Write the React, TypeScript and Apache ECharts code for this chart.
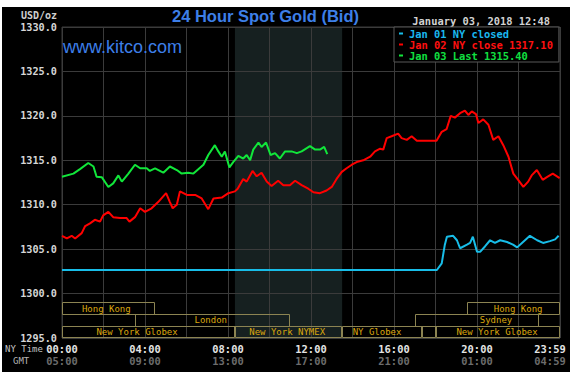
import React, { useEffect, useRef } from "react";
import * as echarts from "echarts";

// ---- axis ticks ----
const nyTimeLabels = ["00:00", "04:00", "08:00", "12:00", "16:00", "20:00", "23:59"];
const gmtTimeLabels = ["05:00", "09:00", "13:00", "17:00", "21:00", "01:00", "04:59"];
const yMin = 1295;
const yMax = 1330;
const yStep = 5;

// ---- series (minutes after NY midnight, price USD/oz) ----
const seriesNames = ["Jan 01 NY closed", "Jan 02 NY close 1317.10", "Jan 03 Last 1315.40"];

const jan01: number[][] = [
  [0, 1302.65], [1084, 1302.65], [1098, 1303.4], [1107, 1305.5], [1113, 1306.4],
  [1131, 1306.5], [1142, 1306.0], [1151, 1305.1], [1171, 1305.5], [1180, 1305.7],
  [1188, 1306.4], [1200, 1304.7], [1209, 1304.7], [1223, 1305.3], [1238, 1306.0],
  [1252, 1305.7], [1267, 1306.0], [1287, 1305.8], [1304, 1305.5], [1316, 1305.2],
  [1330, 1305.7], [1353, 1306.5], [1374, 1306.0], [1391, 1305.7], [1411, 1305.9],
  [1426, 1306.1], [1436, 1306.5],
];

const jan02: number[][] = [
  [0, 1306.5], [14, 1306.2], [28, 1306.5], [38, 1306.2], [57, 1306.8], [67, 1307.6],
  [81, 1307.9], [95, 1308.3], [110, 1308.1], [119, 1308.8], [134, 1309.2], [148, 1308.6],
  [168, 1308.5], [187, 1308.5], [195, 1308.1], [211, 1308.6], [226, 1309.6], [240, 1309.2],
  [259, 1309.6], [278, 1310.3], [301, 1311.3], [312, 1310.3], [320, 1309.6], [332, 1310.0],
  [341, 1311.5], [361, 1311.1], [385, 1311.1], [404, 1310.7], [423, 1309.5], [438, 1310.7],
  [462, 1310.8], [481, 1311.3], [500, 1311.5], [508, 1311.8], [524, 1312.9], [534, 1312.6],
  [551, 1313.8], [563, 1313.2], [577, 1313.6], [592, 1312.6], [606, 1312.1], [625, 1312.7],
  [640, 1312.2], [659, 1312.2], [674, 1312.7], [693, 1312.2], [712, 1311.8], [727, 1311.4],
  [746, 1311.3], [765, 1311.6], [780, 1312.0], [794, 1312.9], [809, 1313.7], [823, 1314.1],
  [838, 1314.5], [852, 1314.8], [871, 1315.0], [891, 1315.4], [905, 1316.0], [920, 1316.3],
  [929, 1316.2], [939, 1317.5], [953, 1317.7], [972, 1318.0], [982, 1317.5], [997, 1317.3],
  [1011, 1317.7], [1026, 1317.2], [1083, 1317.2], [1098, 1318.2], [1112, 1318.5],
  [1124, 1320.0], [1136, 1319.8], [1151, 1320.3], [1165, 1320.6], [1175, 1320.1],
  [1185, 1320.5], [1197, 1320.2], [1204, 1319.2], [1218, 1319.6], [1233, 1319.0],
  [1247, 1317.3], [1262, 1317.7], [1276, 1316.7], [1291, 1315.4], [1305, 1313.5],
  [1319, 1312.8], [1334, 1312.0], [1348, 1312.6], [1358, 1313.3], [1373, 1313.9],
  [1390, 1312.8], [1402, 1313.1], [1419, 1313.5], [1439, 1313.0],
];

const jan03: number[][] = [
  [0, 1313.15], [33, 1313.5], [52, 1314.0], [76, 1314.7], [91, 1314.3], [100, 1313.15],
  [115, 1313.1], [134, 1312.0], [148, 1312.4], [163, 1313.3], [173, 1312.6], [192, 1313.5],
  [211, 1314.5], [226, 1314.1], [245, 1314.1], [254, 1313.8], [269, 1314.1], [293, 1313.6],
  [312, 1314.3], [332, 1313.9], [346, 1313.5], [365, 1313.6], [380, 1313.5], [409, 1314.5],
  [423, 1315.6], [442, 1316.7], [452, 1316.0], [462, 1315.4], [471, 1316.0], [484, 1314.2],
  [495, 1314.8], [510, 1315.5], [524, 1315.2], [534, 1315.6], [544, 1315.0], [553, 1316.2],
  [568, 1317.0], [577, 1316.5], [590, 1317.0], [603, 1315.6], [616, 1315.8], [630, 1315.2],
  [645, 1316.0], [664, 1316.0], [679, 1315.8], [693, 1316.0], [717, 1316.6], [732, 1316.2],
  [746, 1316.2], [758, 1316.5], [767, 1315.7],
];

// ---- market sessions: label, start (min), end (min), row, label anchor (min) ----
const sessionLabels = [
  "Hong Kong", "Hong Kong",
  "London", "Sydney",
  "New York Globex", "New York NYMEX", "NY Globex", "", "New York Globex",
];
const sessionStarts = [0, 1170, 210, 1020, 0, 500, 810, 1040, 1080];
const sessionEnds = [270, 1440, 660, 1380, 500, 810, 1040, 1080, 1440];
const sessionRows = [0, 0, 1, 1, 2, 2, 2, 2, 2];
const sessionLabelAt = [128, 1319, 430, 1255, 217, 651, 911, 1060, 1258];

// COMEX pit hours (shaded)
const comexStart = 500;
const comexEnd = 810;

const MONO = '"DejaVu Sans Mono", monospace';
const SANS = '"Liberation Sans", Arial, sans-serif';
const lineColors = ["#18bde8", "#ff0000", "#11e63a"];
const legendTextColors = ["#1ab8f0", "#ff1010", "#10e040"];
const rowBands = [
  [1299.0, 1297.7],
  [1297.7, 1296.4],
  [1296.4, 1295.1],
];

export default function App() {
  const ref = useRef<HTMLDivElement>(null);

  useEffect(() => {
    if (!ref.current) return;
    const chart = echarts.init(ref.current, undefined, { renderer: "svg" });
    const gridColor = "#3b3b3b";

    const option: any = {
      animation: false,
      backgroundColor: "transparent",
      title: {
        text: "24 Hour Spot Gold (Bid)",
        left: 172,
        top: 6,
        padding: 0,
        textStyle: {
          color: "#3d7fe8",
          fontFamily: SANS,
          fontWeight: "bold",
          fontSize: 16.5,
          lineHeight: 20,
        },
      },
      legend: {
        orient: "vertical",
        left: 394,
        top: 27,
        padding: [1, 6, 1, 5],
        itemGap: 0,
        itemWidth: 4,
        itemHeight: 2,
        icon: "rect",
        selectedMode: false,
        backgroundColor: "#000",
        borderColor: "#595959",
        borderWidth: 1,
        z: 20,
        data: seriesNames.map((n, i) => ({ name: n, textStyle: { color: legendTextColors[i] } })),
        textStyle: {
          fontFamily: MONO,
          fontWeight: "bold",
          fontSize: 10.4,
          lineHeight: 11,
          padding: [0, 0, 0, 1],
        },
      },
      grid: {
        left: 62,
        right: 13,
        top: 27,
        bottom: 37,
        outerBoundsMode: "none",
        containLabel: false,
        show: true,
        borderColor: gridColor,
        borderWidth: 1,
        backgroundColor: "transparent",
      },
      xAxis: {
        type: "value",
        min: 0,
        max: 1440,
        interval: 120,
        axisLine: { show: false },
        axisTick: { show: false },
        splitLine: { show: true, lineStyle: { color: gridColor, width: 1 } },
        axisLabel: {
          margin: 5,
          formatter: (v: number) => {
            if (v % 240 !== 0) return "";
            const i = v / 240;
            const last = i === nyTimeLabels.length - 1;
            return last
              ? `{ne|${nyTimeLabels[i]}}\n{ge|${gmtTimeLabels[i]}}`
              : `{n|${nyTimeLabels[i]}}\n{g|${gmtTimeLabels[i]}}`;
          },
          rich: {
            n: { color: "#e4e4e4", fontFamily: MONO, fontWeight: "bold", fontSize: 10.4, lineHeight: 12 },
            g: { color: "#6c6c6c", fontFamily: MONO, fontWeight: "bold", fontSize: 10.4, lineHeight: 12 },
            ne: { color: "#e4e4e4", fontFamily: MONO, fontWeight: "bold", fontSize: 10.4, lineHeight: 12, padding: [0, 20, 0, 0] },
            ge: { color: "#6c6c6c", fontFamily: MONO, fontWeight: "bold", fontSize: 10.4, lineHeight: 12, padding: [0, 20, 0, 0] },
          },
        },
      },
      yAxis: {
        type: "value",
        min: yMin,
        max: yMax,
        interval: yStep,
        axisLine: { show: false },
        axisTick: { show: false },
        splitLine: { show: true, lineStyle: { color: gridColor, width: 1 } },
        axisLabel: {
          margin: 5,
          color: "#d6d6d6",
          fontFamily: MONO,
          fontWeight: "bold",
          fontSize: 10.2,
          formatter: (v: number) => v.toFixed(1),
        },
      },
      graphic: [
        {
          type: "text",
          x: 63,
          y: 47,
          z: 5,
          style: {
            text: "www.kitco.com",
            fill: "#3d7fe8",
            font: `18px ${SANS}`,
            align: "left",
            verticalAlign: "middle",
          },
        },
        {
          type: "text",
          x: 57,
          y: 15,
          style: {
            text: "USD/oz",
            fill: "#cfcfcf",
            font: `bold 10px ${MONO}`,
            align: "right",
            verticalAlign: "middle",
          },
        },
        {
          type: "text",
          x: 550,
          y: 21,
          style: {
            text: "January 03, 2018 12:48",
            fill: "#d2d2d2",
            font: `bold 10.4px ${MONO}`,
            align: "right",
            verticalAlign: "middle",
          },
        },
        {
          type: "text",
          x: 5,
          y: 349,
          style: {
            text: "NY Time",
            fill: "#c4c4c4",
            font: `9px ${MONO}`,
            align: "left",
            verticalAlign: "middle",
          },
        },
        {
          type: "text",
          x: 13,
          y: 361,
          style: {
            text: "GMT",
            fill: "#b4b4b4",
            font: `9px ${MONO}`,
            align: "left",
            verticalAlign: "middle",
          },
        },
      ],
      series: [
        {
          name: "comex",
          type: "custom",
          z: -1,
          silent: true,
          data: [[comexStart, comexEnd]],
          encode: { x: [0, 1] },
          renderItem: (_p: any, api: any) => {
            const a = api.coord([api.value(0), yMax]);
            const b = api.coord([api.value(1), yMin]);
            return {
              type: "rect",
              shape: { x: a[0], y: a[1], width: b[0] - a[0], height: b[1] - a[1] },
              style: { fill: "#162020" },
            };
          },
        },
        {
          name: "sessions",
          type: "custom",
          z: 2,
          silent: true,
          data: sessionStarts.map((s, i) => [s, sessionEnds[i], sessionRows[i], sessionLabelAt[i]]),
          encode: { x: [0, 1] },
          renderItem: (params: any, api: any) => {
            const row = api.value(2);
            const a = api.coord([api.value(0), rowBands[row][0]]);
            const b = api.coord([api.value(1), rowBands[row][1]]);
            const c = api.coord([api.value(3), rowBands[row][0]]);
            const x0 = Math.round(a[0]) + 0.5;
            const y0 = Math.round(a[1]) + 0.5;
            const w = Math.round(b[0]) - Math.round(a[0]) - 1;
            const h = Math.round(b[1]) - Math.round(a[1]);
            return {
              type: "group",
              children: [
                {
                  type: "rect",
                  shape: { x: x0, y: y0, width: w, height: h },
                  style: { fill: "none", stroke: "#8c8452", lineWidth: 1 },
                },
                {
                  type: "text",
                  x: c[0],
                  y: (a[1] + b[1]) / 2 + 0.5,
                  style: {
                    text: sessionLabels[params.dataIndex],
                    fill: "#dba70e",
                    font: `9px ${MONO}`,
                    align: "center",
                    verticalAlign: "middle",
                  },
                },
              ],
            };
          },
        },
        ...[jan01, jan02, jan03].map((d, i) => ({
          name: seriesNames[i],
          type: "line",
          z: 3 + i,
          data: d,
          showSymbol: false,
          symbol: "none",
          color: lineColors[i],
          itemStyle: { color: lineColors[i] },
          lineStyle: { color: lineColors[i], width: 2 },
        })),
      ],
    };

    chart.setOption(option);
    return () => chart.dispose();
  }, []);

  return (
    <div style={{ position: "fixed", left: 0, top: 0, width: 573, height: 375, background: "#fff" }}>
      <div style={{ position: "absolute", left: 2, top: 7, width: 568, height: 365, background: "#000" }} />
      <div ref={ref} style={{ position: "absolute", left: 0, top: 0, width: 573, height: 375 }} />
    </div>
  );
}
